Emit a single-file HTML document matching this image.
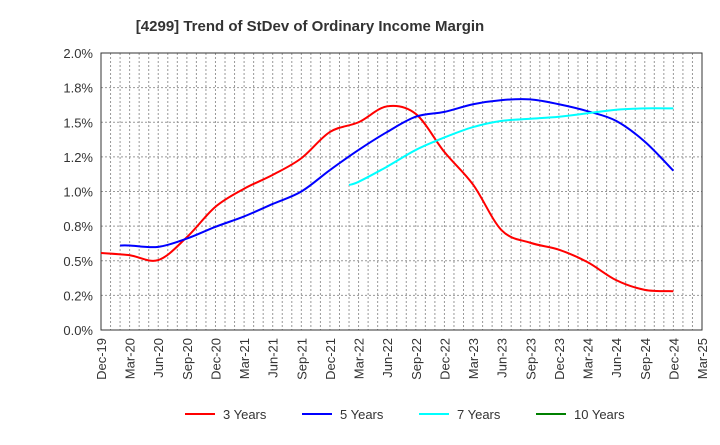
<!DOCTYPE html>
<html><head><meta charset="utf-8"><style>
body{margin:0;background:#fff;font-family:"Liberation Sans",Arial,sans-serif}
</style></head><body>
<svg id="c" width="720" height="440" xmlns="http://www.w3.org/2000/svg">
<text x="310" y="31" text-anchor="middle" font-size="15" font-weight="bold" fill="#333">[4299]  Trend of StDev of Ordinary Income Margin</text>
<g id="grid"></g><g id="axes"></g><g id="series"></g><g id="legend"></g>
</svg>
<script>
const xLabels=["Dec-19","Mar-20","Jun-20","Sep-20","Dec-20","Mar-21","Jun-21","Sep-21","Dec-21","Mar-22","Jun-22","Sep-22","Dec-22","Mar-23","Jun-23","Sep-23","Dec-23","Mar-24","Jun-24","Sep-24","Dec-24","Mar-25"];
const yTicks=[0,0.25,0.5,0.75,1.0,1.25,1.5,1.75,2.0];
const yTickLabels=["0.0%","0.2%","0.5%","0.8%","1.0%","1.2%","1.5%","1.8%","2.0%"];
// month index from Dec-19
const m3=[0,3,6,9,12,15,18,21,24,27,30,33,36,39,42,45,48,51,54,57,60];
const v3=[0.556,0.54,0.505,0.67,0.89,1.02,1.12,1.24,1.43,1.50,1.615,1.56,1.285,1.05,0.72,0.63,0.58,0.49,0.36,0.29,0.28];
const m5=[2,3,6,9,12,15,18,21,24,27,30,33,36,39,42,45,48,51,54,57,60];
const v5=[0.61,0.61,0.60,0.66,0.745,0.82,0.91,1.0,1.155,1.30,1.43,1.54,1.575,1.63,1.66,1.665,1.63,1.58,1.51,1.36,1.15];
const m7=[26,27,30,33,36,39,42,45,48,51,54,57,60];
const v7=[1.047,1.07,1.18,1.30,1.39,1.465,1.51,1.525,1.54,1.565,1.59,1.60,1.60];
const m10=[],v10=[];
const L=101,R=702,T=53,B=330;
const xs=m=>L+(R-L)*m/63;
const ys=v=>B-(B-T)*v/2;
const NS="http://www.w3.org/2000/svg";
function mk(p,t,a){const e=document.createElementNS(NS,t);for(const k in a)e.setAttribute(k,a[k]);p.appendChild(e);return e;}
const grid=document.getElementById('grid'),axes=document.getElementById('axes');
for(let m=1;m<63;m++){const l=mk(grid,'line',{x1:xs(m),x2:xs(m),y1:T,y2:B,stroke:'#999','stroke-width':1,'stroke-dasharray':'2,2'});
}
yTicks.forEach((v,i)=>{const l=mk(grid,'line',{x1:L,x2:R,y1:ys(v),y2:ys(v),stroke:'#999','stroke-width':1,'stroke-dasharray':'2,2'});

const t=mk(axes,'text',{x:L-8,y:ys(v)+5,'text-anchor':'end','font-size':13,fill:'#333'});t.textContent=yTickLabels[i];
});
const fr=mk(axes,'rect',{x:L,y:T,width:R-L,height:B-T,fill:'none',stroke:'#333','stroke-width':1});

xLabels.forEach((s,i)=>{const x=xs(i*3);const t=mk(axes,'text',{x:0,y:0,'text-anchor':'end','font-size':13,fill:'#333',transform:`translate(${x+5},${B+8}) rotate(-90)`});t.textContent=s;
});
function path(ms,vs){const p=ms.map((m,i)=>[xs(m),ys(vs[i])]);if(!p.length)return'';let d=`M${p[0][0]},${p[0][1]}`;
for(let i=0;i<p.length-1;i++){const p0=p[i-1]||p[i],p1=p[i],p2=p[i+1],p3=p[i+2]||p2;
d+=` C${p1[0]+(p2[0]-p0[0])/6},${p1[1]+(p2[1]-p0[1])/6} ${p2[0]-(p3[0]-p1[0])/6},${p2[1]-(p3[1]-p1[1])/6} ${p2[0]},${p2[1]}`;}return d;}
const ser=document.getElementById('series');
[[m3,v3,'#ff0000','series-3-years'],[m5,v5,'#0000ff','series-5-years'],[m7,v7,'#00ffff','series-7-years'],[m10,v10,'#008000','series-10-years']].forEach(s=>{
if(!s[0].length)return;const e=mk(ser,'path',{d:path(s[0],s[1]),fill:'none',stroke:s[2],'stroke-width':2});
});
const lg=document.getElementById('legend');
[['3 Years','#ff0000',185],['5 Years','#0000ff',302],['7 Years','#00ffff',419],['10 Years','#008000',536]].forEach(l=>{
const g=mk(lg,'g',{});
mk(g,'line',{x1:l[2],x2:l[2]+30,y1:414,y2:414,stroke:l[1],'stroke-width':2});
const t=mk(g,'text',{x:l[2]+38,y:419,'font-size':13,fill:'#333'});t.textContent=l[0];});
</script>
</body></html>
